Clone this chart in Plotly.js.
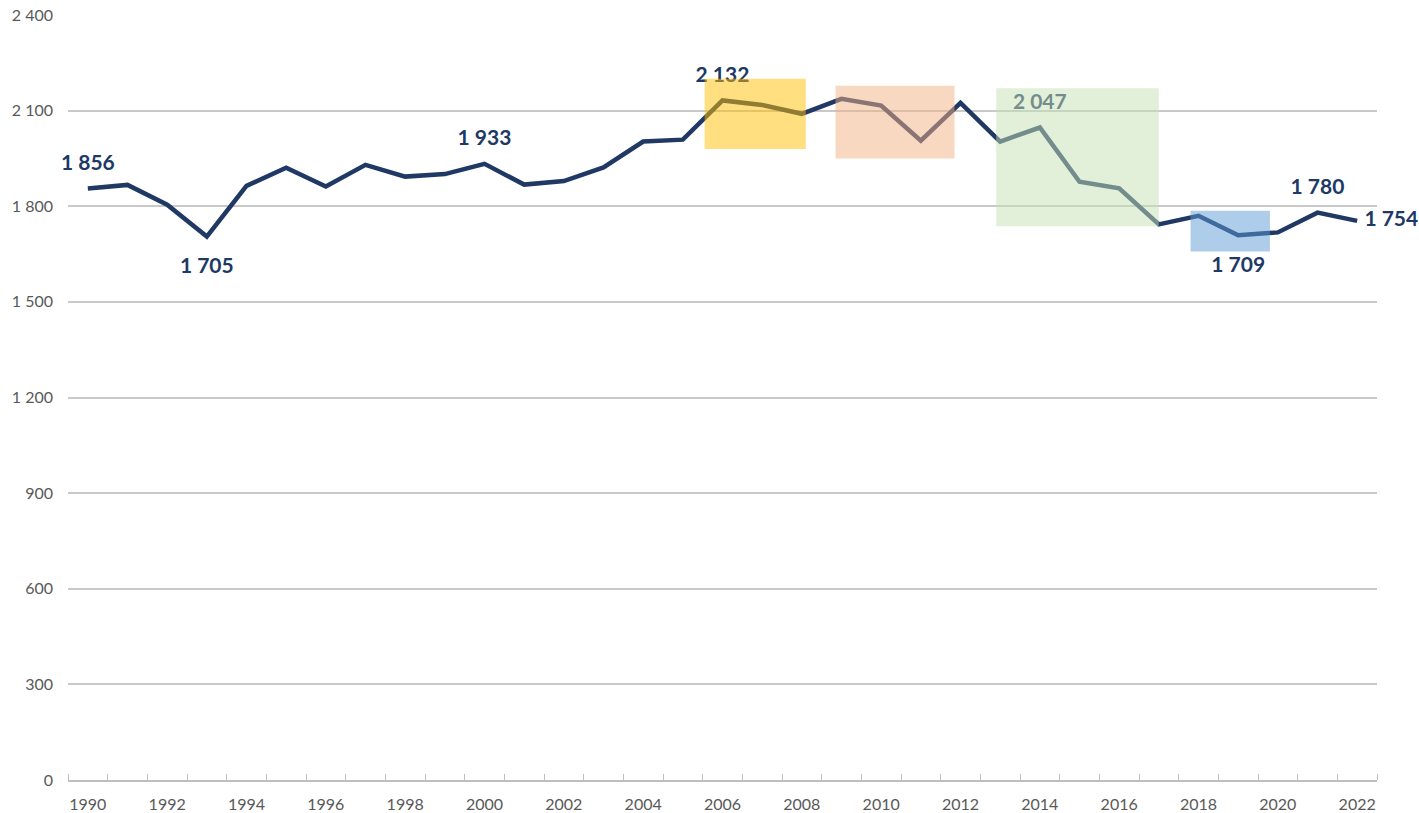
<!DOCTYPE html>
<html>
<head>
<meta charset="utf-8">
<script src="https://cdn.plot.ly/plotly-3.0.1.min.js"></script>
<style>
  html, body { margin: 0; padding: 0; background: #ffffff; }
  #chart { width: 1419px; height: 813px; }
</style>
</head>
<body>
<div id="chart"></div>
<script>
// Annual series, 1990–2022
const years = [1990, 1991, 1992, 1993, 1994, 1995, 1996, 1997, 1998, 1999,
               2000, 2001, 2002, 2003, 2004, 2005, 2006, 2007, 2008, 2009,
               2010, 2011, 2012, 2013, 2014, 2015, 2016, 2017, 2018, 2019,
               2020, 2021, 2022];
const values = [1856, 1867, 1805, 1705, 1864, 1921, 1862, 1930, 1893, 1901,
                1933, 1868, 1879, 1922, 2003, 2009, 2132, 2118, 2090, 2137,
                2116, 2006, 2124, 2003, 2047, 1877, 1856, 1743, 1770, 1709,
                1718, 1780, 1754];

// Years that carry a data label, and where the label sits
const labelYears = [1990, 1993, 2000, 2006, 2014, 2019, 2021, 2022];
const labelSides = ['top center', 'bottom center', 'top center', 'top center',
                    'top center', 'bottom center', 'top center', 'middle right'];

// Even-year tick labels on the x axis
const xTickYears = [1990, 1992, 1994, 1996, 1998, 2000, 2002, 2004, 2006, 2008,
                    2010, 2012, 2014, 2016, 2018, 2020, 2022];

// Highlighted periods: [start, end, low, high]
const bandYellow = [2005.55, 2008.1, 1980, 2200];
const bandOrange = [2008.85, 2011.85, 1950, 2178];
const bandGreen  = [2012.9, 2017.0, 1737, 2170];
const bandBlue   = [2017.8, 2019.8, 1658, 1786];

const NAVY = '#203864';
const fmt = v => String(v).replace(/\B(?=(\d{3})+(?!\d))/g, ' ');

const labelValues = labelYears.map(y => values[years.indexOf(y)]);
// invisible marker size sets how far each label stands off its point
const labelGap = labelSides.map(s => s.startsWith('bottom') ? 32 : (s.startsWith('middle') ? 10 : 20));

const lineTrace = {
  x: years, y: values,
  type: 'scatter', mode: 'lines',
  line: { color: NAVY, width: 4.5 },
  hoverinfo: 'x+y'
};

const labelTrace = {
  x: labelYears, y: labelValues,
  type: 'scatter', mode: 'markers+text',
  cliponaxis: false,
  text: labelValues.map(fmt),
  textposition: labelSides,
  textfont: { family: 'Lato, "Open Sans", sans-serif', size: 21, color: NAVY, weight: 700 },
  marker: { size: labelGap, color: 'rgba(0,0,0,0)', line: { width: 0 } },
  hoverinfo: 'skip'
};

function band(b, color) {
  return {
    type: 'rect', xref: 'x', yref: 'y', layer: 'above',
    x0: b[0], x1: b[1], y0: b[2], y1: b[3],
    fillcolor: color, opacity: 0.5, line: { width: 0 }
  };
}

const layout = {
  width: 1419, height: 813,
  margin: { l: 68, r: 42, t: 15, b: 33 },
  paper_bgcolor: '#ffffff', plot_bgcolor: '#ffffff',
  showlegend: false,
  separators: ', ',
  font: { family: 'Lato, "Open Sans", sans-serif', color: '#595959', size: 16 },
  xaxis: {
    range: [1989.5, 2022.5],
    tickmode: 'array', tickvals: xTickYears, ticktext: xTickYears.map(String),
    ticks: '', showgrid: false, zeroline: false,
    showline: true, linecolor: '#bfbfbf', linewidth: 1.5,
    ticklabelstandoff: 9,
    tickfont: { size: 16, color: '#595959' },
    minor: { tick0: 1989.5, dtick: 1, ticks: 'inside', ticklen: 6, tickwidth: 1.2, tickcolor: '#bfbfbf', showgrid: false }
  },
  yaxis: {
    range: [0, 2400], tick0: 0, dtick: 300,
    separatethousands: true,
    showgrid: true, gridcolor: '#c9c9c9', gridwidth: 1.5,
    zeroline: false, showline: false, ticks: '',
    ticklabelstandoff: 14,
    tickfont: { size: 16, color: '#595959' }
  },
  shapes: [
    band(bandYellow, '#FFC000'),
    band(bandOrange, '#F4B183'),
    band(bandGreen,  '#C5E0B4'),
    band(bandBlue,   '#5B9BD5')
  ]
};

Plotly.newPlot('chart', [lineTrace, labelTrace], layout, { displayModeBar: false, responsive: false });
</script>
</body>
</html>
